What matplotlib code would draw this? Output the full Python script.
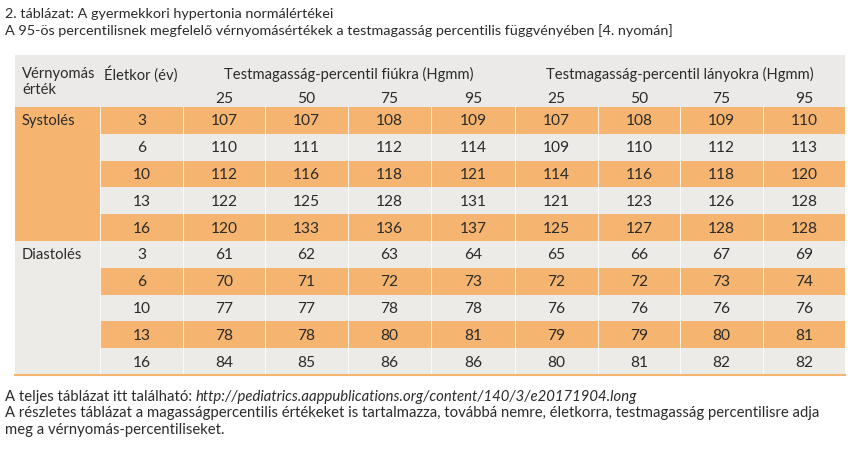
import matplotlib
matplotlib.use("Agg")
import matplotlib.pyplot as plt
from matplotlib.patches import Rectangle

plt.rcParams['font.family'] = ['Lato', 'DejaVu Sans']

title_lines = ["2. táblázat: A gyermekkori hypertonia normálértékei",
               "A 95-ös percentilisnek megfelelő vérnyomásértékek a testmagasság percentilis függvényében [4. nyomán]"]
groups = ["Systolés", "Diastolés"]
ages = [3, 6, 10, 13, 16]
percentiles = [25, 50, 75, 95]
boys_header = "Testmagasság-percentil fiúkra (Hgmm)"
girls_header = "Testmagasság-percentil lányokra (Hgmm)"
boys_sys = [[107, 107, 108, 109], [110, 111, 112, 114], [112, 116, 118, 121],
            [122, 125, 128, 131], [120, 133, 136, 137]]
girls_sys = [[107, 108, 109, 110], [109, 110, 112, 113], [114, 116, 118, 120],
             [121, 123, 126, 128], [125, 127, 128, 128]]
boys_dia = [[61, 62, 63, 64], [70, 71, 72, 73], [77, 77, 78, 78],
            [78, 78, 80, 81], [84, 85, 86, 86]]
girls_dia = [[65, 66, 67, 69], [72, 72, 73, 74], [76, 76, 76, 76],
             [79, 79, 80, 81], [80, 81, 82, 82]]
footer_1a = "A teljes táblázat itt található: "
footer_1b = "http://pediatrics.aappublications.org/content/140/3/e20171904.long"
footer_2 = "A részletes táblázat a magasságpercentilis értékeket is tartalmazza, továbbá nemre, életkorra, testmagasság percentilisre adja"
footer_3 = "meg a vérnyomás-percentiliseket."

W, H = 859, 451
fig = plt.figure(figsize=(W / 100, H / 100), dpi=100)
ax = fig.add_axes([0, 0, 1, 1])
ax.set_xlim(0, W)
ax.set_ylim(H, 0)
ax.axis('off')

ORANGE = '#f5b46f'
GRAY = '#ecebe8'
HEAD = '#ebeae8'
TXT = '#2b2b2b'
FS_NUM = 11.2
FS_TXT = 10.6

col_edges = [15, 100, 183, 265, 348, 431, 515, 598, 680, 763, 845]
head_top, row_top, row_h = 55, 107, 26.8
n_rows = len(groups) * len(ages)
table_bot = row_top + n_rows * row_h

# header background
ax.add_patch(Rectangle((col_edges[0], head_top), col_edges[-1] - col_edges[0],
                       row_top - head_top, color=HEAD, lw=0, zorder=0))

# rows
rows = []
for g, (b, gl) in enumerate([(boys_sys, girls_sys), (boys_dia, girls_dia)]):
    for i, age in enumerate(ages):
        rows.append((g, i, age, b[i] + gl[i]))

for r, (g, i, age, vals) in enumerate(rows):
    y0 = row_top + r * row_h
    orange = (r % 2 == 0)
    for c in range(len(col_edges) - 1):
        x0, x1 = col_edges[c], col_edges[c + 1]
        if c == 0:
            fc = ORANGE if g == 0 else GRAY
        else:
            fc = ORANGE if orange else GRAY
        ax.add_patch(Rectangle((x0, y0), x1 - x0, row_h, facecolor=fc,
                               edgecolor='none', zorder=0))
    yc = y0 + row_h / 2 + 1
    if i == 0:
        ax.text(22, yc, groups[g], ha='left', va='center', fontsize=FS_TXT, color=TXT)
    ax.text((col_edges[1] + col_edges[2]) / 2, yc, str(age), ha='center',
            va='center', fontsize=FS_NUM, color=TXT)
    for k, v in enumerate(vals):
        ax.text((col_edges[k + 2] + col_edges[k + 3]) / 2, yc, str(v),
                ha='center', va='center', fontsize=FS_NUM, color=TXT)

# white vertical separators in body
for x in col_edges[1:-1]:
    ax.plot([x, x], [row_top, table_bot], color='white', lw=0.8, alpha=0.8, zorder=1)
# bottom orange line
ax.plot([col_edges[0], col_edges[-1]], [table_bot, table_bot], color=ORANGE, lw=1.5, zorder=2)

# header text
ax.text(22, 74, "Vérnyomás", ha='left', va='center', fontsize=FS_TXT, color=TXT)
ax.text(22, 90, "érték", ha='left', va='center', fontsize=FS_TXT, color=TXT)
ax.text(104, 74, "Életkor (év)", ha='left', va='center', fontsize=FS_TXT, color=TXT)
ax.text((col_edges[2] + col_edges[6]) / 2, 74, boys_header, ha='center',
        va='center', fontsize=FS_TXT, color=TXT)
ax.text((col_edges[6] + col_edges[10]) / 2, 74, girls_header, ha='center',
        va='center', fontsize=FS_TXT, color=TXT)
for k, p in enumerate(percentiles * 2):
    ax.text((col_edges[k + 2] + col_edges[k + 3]) / 2, 99, str(p), ha='center',
            va='center', fontsize=FS_NUM, color=TXT)

# title
ax.text(5, 14, title_lines[0], ha='left', va='center', fontsize=10.4, color=TXT)
ax.text(5, 31, title_lines[1], ha='left', va='center', fontsize=10.4, color=TXT)

# footer
t = ax.text(5, 397, footer_1a, ha='left', va='center', fontsize=10.7, color=TXT)
fig.canvas.draw()
bb = t.get_window_extent()
ax.text(bb.x1, 397, footer_1b, ha='left', va='center', fontsize=10.7,
        style='italic', color=TXT)
ax.text(5, 413, footer_2, ha='left', va='center', fontsize=10.7, color=TXT)
ax.text(5, 430, footer_3, ha='left', va='center', fontsize=10.7, color=TXT)

fig.savefig("out.png", dpi=100, facecolor='white')
